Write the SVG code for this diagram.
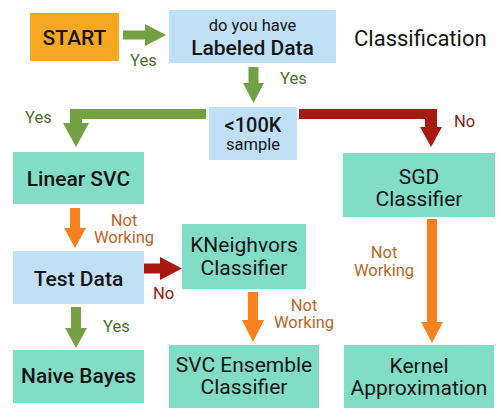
<svg xmlns="http://www.w3.org/2000/svg" width="502" height="419" viewBox="0 0 502 419">
<style>
.teal{fill:#82DDC6}
.blue{fill:#C0E0F8}
.start{fill:#F7A823}
.t{font-family:Roboto,"Liberation Sans",sans-serif;fill:#151515;text-anchor:middle}
.big{font-size:21px;font-weight:500}
.reg{font-size:21px;font-weight:400}
.sm{font-size:16.5px;font-weight:400}
.lbl{font-family:Roboto,"Liberation Sans",sans-serif;font-size:16.5px}
.yes{fill:#4E6B2F}
.no{fill:#8E1B14}
.nw{fill:#B8652A;text-anchor:middle}
.ga{fill:#72A043}
.ra{fill:#A8190F}
.oa{fill:#F7801F}
</style>
<rect width="502" height="419" fill="#FFFFFF"/>
<g id="connectors">
<path class="ga" d="M123,30.5 H145 V24 L166,35 L145,46 V39.5 H123 Z"/>
<path class="ga" d="M248.5,67 H258.5 V83 H264 L253.5,103 L243,83 H248.5 Z"/>
<path class="ga" d="M206,109 H70 V123 H63 L76,147 L89,123 H82 V119 H206 Z"/>
<path class="ra" d="M299,109 H437 V127 H442 L431,147 L420,127 H425 V119 H299 Z"/>
<path class="oa" d="M70,208 H80 V228 H86 L75,248 L64,228 H70 Z"/>
<path class="ra" d="M144,263.5 H160 V257 L182,268.5 L160,280 V273.5 H144 Z"/>
<path class="ga" d="M71,307 H81 V328 H87 L76,348 L65,328 H71 Z"/>
<path class="oa" d="M248,292 H258 V320 H264 L253,342 L242,320 H248 Z"/>
<path class="oa" d="M427,219 H437 V322 H443 L432,343 L421,322 H427 Z"/>
<text class="lbl yes" x="130" y="66">Yes</text>
<text class="lbl yes" x="280" y="84">Yes</text>
<text class="lbl yes" x="25" y="123">Yes</text>
<text class="lbl no" x="454" y="127">No</text>
<text class="lbl nw" x="124" y="226">Not</text>
<text class="lbl nw" x="124" y="243">Working</text>
<text class="lbl no" x="153" y="299">No</text>
<text class="lbl yes" x="103" y="332">Yes</text>
<text class="lbl nw" x="304" y="311">Not</text>
<text class="lbl nw" x="304" y="328">Working</text>
<text class="lbl nw" x="384" y="258">Not</text>
<text class="lbl nw" x="384" y="276">Working</text>
</g>
<g id="start">
<rect class="start" x="30" y="13" width="89" height="48"/>
<text class="t big" x="74.5" y="45">START</text>
</g>
<g id="labeled">
<rect class="blue" x="169" y="10" width="167" height="53"/>
<text class="t sm" x="252.5" y="31">do you have</text>
<text class="t big" x="252.5" y="55">Labeled Data</text>
</g>
<g id="title">
<text x="354" y="46" font-family="Roboto,'Liberation Sans',sans-serif" font-size="22" fill="#151515">Classification</text>
</g>
<g id="sample">
<rect class="blue" x="209" y="107" width="88" height="53"/>
<text class="t big" x="253" y="132" style="font-size:20px">&lt;100K</text>
<text class="t sm" x="253" y="150">sample</text>
</g>
<g id="linear">
<rect class="teal" x="13" y="152" width="131" height="52"/>
<text class="t big" x="78.5" y="186">Linear SVC</text>
</g>
<g id="sgd">
<rect class="teal" x="343" y="153" width="152" height="64"/>
<text class="t reg" x="419" y="184">SGD</text>
<text class="t reg" x="419" y="206">Classifier</text>
</g>
<g id="test">
<rect class="blue" x="13" y="251" width="131" height="53"/>
<text class="t big" x="78.5" y="286">Test Data</text>
</g>
<g id="kneighbors">
<rect class="teal" x="182" y="224" width="124" height="65"/>
<text class="t reg" x="244" y="252">KNeighvors</text>
<text class="t reg" x="244" y="275">Classifier</text>
</g>
<g id="naive">
<rect class="teal" x="13" y="350" width="131" height="53"/>
<text class="t big" x="78.5" y="383">Naive Bayes</text>
</g>
<g id="svcens">
<rect class="teal" x="169" y="345" width="150" height="63"/>
<text class="t reg" x="244" y="372">SVC Ensemble</text>
<text class="t reg" x="244" y="394">Classifier</text>
</g>
<g id="kernel">
<rect class="teal" x="344" y="345" width="150" height="63"/>
<text class="t reg" x="419" y="373">Kernel</text>
<text class="t reg" x="419" y="395">Approximation</text>
</g>
</svg>
